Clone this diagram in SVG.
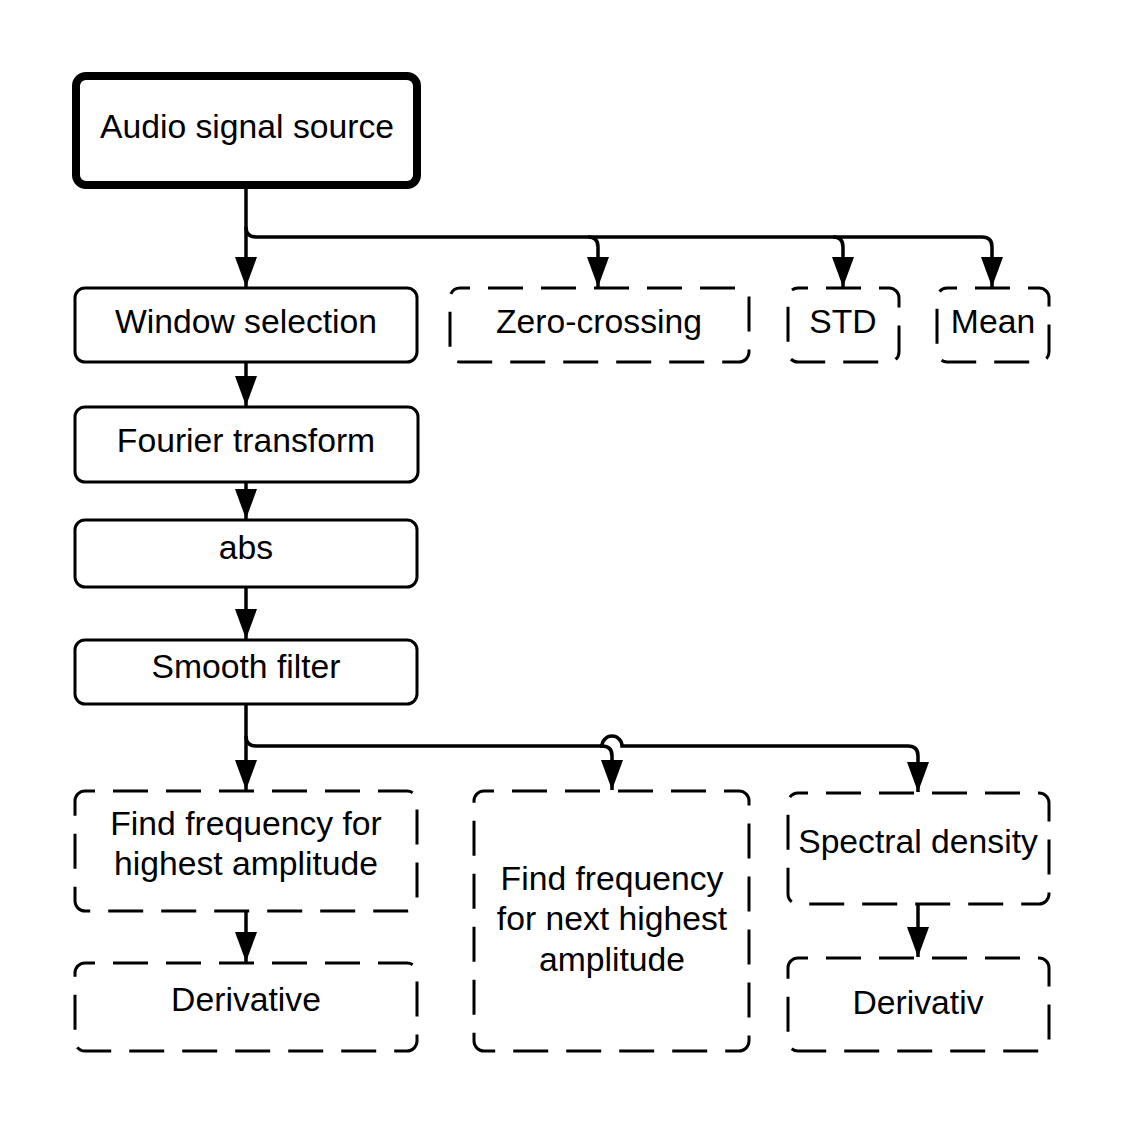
<svg xmlns="http://www.w3.org/2000/svg" width="1125" height="1129" viewBox="0 0 1125 1129">
<style>
.box{fill:#fff;stroke:#000;stroke-width:3}
.dash{fill:#fff;stroke:#000;stroke-width:3;stroke-dasharray:35 18;stroke-dashoffset:25}
.main{fill:#fff;stroke:#000;stroke-width:8}
.lbl{font-family:"Liberation Sans",Arial,sans-serif;font-size:33.7px;fill:#000;text-anchor:middle}
.con{fill:none;stroke:#000;stroke-width:3.5}
</style>
<defs>
<marker id="arr" markerUnits="userSpaceOnUse" markerWidth="32" markerHeight="24" refX="30" refY="11" orient="auto">
<path d="M0,0 L30,11 L0,22 z" fill="#000"/>
</marker>
</defs>
<rect width="1125" height="1129" fill="#fff"/>
<g id="connectors">
<path class="con" d="M246,189 V287" marker-end="url(#arr)"/>
<path class="con" d="M246,227 Q246,237 256,237 H588 Q598,237 598,247 V287" marker-end="url(#arr)"/>
<path class="con" d="M588,237 H833 Q843,237 843,247 V287" marker-end="url(#arr)"/>
<path class="con" d="M833,237 H982 Q992,237 992,247 V287" marker-end="url(#arr)"/>
<path class="con" d="M246,363 V406" marker-end="url(#arr)"/>
<path class="con" d="M246,483 V519" marker-end="url(#arr)"/>
<path class="con" d="M246,588 V639" marker-end="url(#arr)"/>
<path class="con" d="M246,705 V790" marker-end="url(#arr)"/>
<path class="con" d="M246,736 Q246,746 256,746 H602 Q612,746 612,756 V790" marker-end="url(#arr)"/>
<path class="con" d="M600,746 H602 A10,10 0 0 1 622,746 H908 Q918,746 918,756 V792" marker-end="url(#arr)"/>
<path class="con" d="M246,912 V962" marker-end="url(#arr)"/>
<path class="con" d="M918,905 V957" marker-end="url(#arr)"/>
</g>
<g id="audio"><rect class="main" x="76" y="76" width="341" height="109" rx="10"/><text class="lbl" x="247" y="138">Audio signal source</text></g>
<g id="window"><rect class="box" x="75" y="288" width="342" height="74" rx="10"/><text class="lbl" x="246" y="333">Window selection</text></g>
<g id="zero"><rect class="dash" x="450" y="288" width="299" height="74" rx="10"/><text class="lbl" x="599" y="333">Zero-crossing</text></g>
<g id="std"><rect class="dash" x="788" y="288" width="111" height="74" rx="10"/><text class="lbl" x="843" y="333">STD</text></g>
<g id="mean"><rect class="dash" x="937" y="288" width="112" height="74" rx="10"/><text class="lbl" x="993" y="333">Mean</text></g>
<g id="fourier"><rect class="box" x="75" y="407" width="343" height="75" rx="10"/><text class="lbl" x="246" y="452">Fourier transform</text></g>
<g id="abs"><rect class="box" x="75" y="520" width="342" height="67" rx="10"/><text class="lbl" x="246" y="559">abs</text></g>
<g id="smooth"><rect class="box" x="75" y="640" width="342" height="64" rx="10"/><text class="lbl" x="246" y="678">Smooth filter</text></g>
<g id="findhigh"><rect class="dash" x="75" y="791" width="342" height="120" rx="10"/><text class="lbl" x="246" y="835">Find frequency for</text><text class="lbl" x="246" y="875">highest amplitude</text></g>
<g id="deriv1"><rect class="dash" x="75" y="963" width="342" height="88" rx="10"/><text class="lbl" x="246" y="1011">Derivative</text></g>
<g id="findnext"><rect class="dash" x="474" y="791" width="275" height="260" rx="10"/><text class="lbl" x="612" y="890">Find frequency</text><text class="lbl" x="612" y="930">for next highest</text><text class="lbl" x="612" y="971">amplitude</text></g>
<g id="spectral"><rect class="dash" x="788" y="793" width="261" height="111" rx="10"/><text class="lbl" x="918" y="853">Spectral density</text></g>
<g id="deriv2"><rect class="dash" x="788" y="958" width="261" height="93" rx="10"/><text class="lbl" x="918" y="1014">Derivativ</text></g>
</svg>
